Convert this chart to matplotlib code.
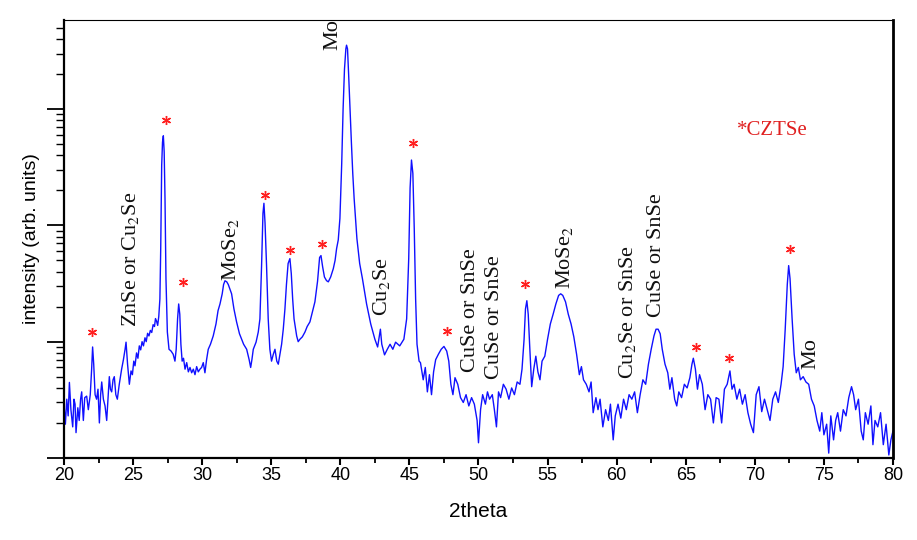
import matplotlib
matplotlib.use("Agg")
import matplotlib.pyplot as plt
from matplotlib.ticker import LogLocator, NullFormatter, MultipleLocator

plt.rcParams["font.family"] = ["Liberation Sans", "DejaVu Sans"]
plt.rcParams["mathtext.fontset"] = "stix"

# XRD pattern (2theta in degrees, intensity in arb. units)
two_theta = [
    20.0, 20.1, 20.2, 20.3, 20.39, 20.5, 20.63, 20.72, 20.8, 20.87, 21.0, 21.1, 21.2, 21.28, 21.4,
    21.5, 21.64, 21.76, 21.9, 22.0, 22.07, 22.15, 22.25, 22.36, 22.46, 22.56, 22.65, 22.73, 22.85,
    22.97, 23.09, 23.2, 23.28, 23.36, 23.45, 23.55, 23.64, 23.75, 23.86, 24.0, 24.17, 24.3, 24.42,
    24.49, 24.6, 24.73, 24.85, 24.95, 25.05, 25.14, 25.25, 25.35, 25.45, 25.55, 25.65, 25.75, 25.86,
    25.95, 26.05, 26.15, 26.25, 26.35, 26.45, 26.55, 26.62, 26.7, 26.78, 26.86, 26.94, 27.0, 27.07,
    27.13, 27.19, 27.25, 27.31, 27.38, 27.48, 27.6, 27.75, 27.9, 28.03, 28.12, 28.22, 28.3, 28.38,
    28.46, 28.55, 28.65, 28.76, 28.88, 29.0, 29.12, 29.24, 29.36, 29.48, 29.6, 29.72, 29.84, 29.96,
    30.08, 30.2, 30.32, 30.44, 30.6, 30.8, 31.0, 31.15, 31.29, 31.45, 31.55, 31.65, 31.78, 31.89,
    32.0, 32.13, 32.3, 32.49, 32.7, 32.86, 33.0, 33.22, 33.4, 33.51, 33.6, 33.7, 33.9, 34.06, 34.18,
    34.3, 34.4, 34.47, 34.55, 34.66, 34.78, 34.9, 35.02, 35.15, 35.27, 35.4, 35.51, 35.63, 35.75,
    35.87, 35.99, 36.1, 36.22, 36.35, 36.45, 36.55, 36.65, 36.84, 36.95, 37.08, 37.25, 37.44, 37.6,
    37.8, 37.95, 38.16, 38.35, 38.5, 38.6, 38.72, 38.85, 39.0, 39.13, 39.3, 39.49, 39.62, 39.73,
    39.85, 39.97, 40.1, 40.2, 40.3, 40.4, 40.45, 40.52, 40.6, 40.7, 40.8, 40.9, 41.0, 41.2, 41.4,
    41.6, 41.9, 42.2, 42.5, 42.7, 42.9, 43.0, 43.2, 43.4, 43.6, 43.8, 44.0, 44.3, 44.6, 44.8, 44.95,
    45.05, 45.15, 45.25, 45.35, 45.45, 45.55, 45.7, 45.8, 46.0, 46.15, 46.3, 46.45, 46.6, 46.75,
    46.9, 47.1, 47.3, 47.5, 47.7, 47.85, 48.0, 48.15, 48.3, 48.5, 48.7, 48.9, 49.1, 49.3, 49.5,
    49.7, 49.9, 50.0, 50.15, 50.3, 50.5, 50.65, 50.8, 51.0, 51.15, 51.3, 51.45, 51.6, 51.8, 52.0,
    52.2, 52.4, 52.6, 52.8, 53.0, 53.15, 53.3, 53.4, 53.5, 53.6, 53.7, 53.85, 54.0, 54.15, 54.3,
    54.45, 54.6, 54.8, 55.0, 55.2, 55.4, 55.6, 55.8, 55.95, 56.1, 56.3, 56.5, 56.7, 56.9, 57.1,
    57.3, 57.45, 57.6, 57.8, 58.0, 58.15, 58.3, 58.5, 58.65, 58.8, 59.0, 59.2, 59.4, 59.55, 59.75,
    59.9, 60.1, 60.3, 60.5, 60.7, 60.9, 61.1, 61.3, 61.5, 61.7, 61.9, 62.1, 62.3, 62.5, 62.7,
    62.85, 63.0, 63.15, 63.3, 63.5, 63.7, 63.85, 64.0, 64.2, 64.35, 64.5, 64.7, 64.9, 65.1, 65.3,
    65.45, 65.55, 65.7, 65.85, 66.0, 66.2, 66.4, 66.6, 66.8, 67.0, 67.2, 67.4, 67.6, 67.8, 68.0,
    68.2, 68.35, 68.5, 68.7, 68.9, 69.1, 69.3, 69.5, 69.7, 69.9, 70.1, 70.3, 70.5, 70.7, 70.9,
    71.1, 71.3, 71.5, 71.7, 71.9, 72.05, 72.2, 72.35, 72.45, 72.55, 72.7, 72.85, 73.0, 73.15, 73.3,
    73.5, 73.7, 73.9, 74.1, 74.3, 74.5, 74.7, 74.85, 75.0, 75.2, 75.35, 75.5, 75.7, 75.85, 76.0,
    76.2, 76.4, 76.6, 76.8, 77.0, 77.15, 77.3, 77.5, 77.7, 77.85, 78.0, 78.2, 78.4, 78.55, 78.7,
    78.9, 79.1, 79.3, 79.5, 79.7, 79.85, 80.0,
]
intensity = [
    29, 19.5, 32, 23, 44.6, 26, 18.5, 32, 29, 16.5, 27, 21, 32, 37, 21,
    33, 34, 26, 35, 58, 90, 64, 35, 32, 39, 20, 35, 45, 32,
    28, 21, 35, 50, 39, 37, 47, 50, 35, 32, 43, 58, 70, 86,
    99, 64, 43, 56, 52, 68, 62, 80, 72, 92, 85, 100, 92, 108,
    100, 118, 112, 125, 120, 140, 135, 158, 150, 138, 165, 233, 632, 3300,
    5200, 5900, 4300, 1700, 348, 121, 86, 83, 78, 68, 86, 157, 211, 172,
    95, 68, 72, 58, 66, 55, 60, 54, 58, 52, 61, 55, 58, 60,
    66, 54, 70, 86, 95, 112, 142, 185, 211, 258, 310, 334, 327, 310,
    285, 258, 191, 148, 117, 105, 95, 86, 70, 60, 70, 86, 99, 121, 157,
    451, 1270, 1550, 1050, 451, 157, 86, 68, 78, 86, 68, 64, 78, 95,
    128, 191, 310, 470, 518, 385, 233, 157, 112, 100, 105, 110, 121, 135,
    148, 175, 220, 330, 530, 550, 440, 360, 335, 327, 360, 424, 500, 632,
    750, 1150, 3400, 10000, 22000, 33000, 35500, 33000, 20000, 10000, 5200, 2800, 1700, 770, 470,
    348, 211, 142, 105, 90, 128, 95, 77, 86, 95, 86, 99, 92, 105, 157, 518,
    2100, 3650, 2800, 940, 233, 95, 68, 66, 47, 60, 37, 52, 35, 55,
    70, 78, 86, 91, 83, 68, 43, 35, 49, 43, 33, 30, 35, 28, 33,
    29, 21, 13.5, 26, 35, 29, 37, 32, 35, 26, 18.5, 37, 33, 43, 39,
    32, 40, 35, 45, 43, 58, 105, 191, 225, 172, 95, 41, 58, 75, 55,
    47, 68, 75, 105, 142, 172, 211, 250, 258, 250, 220, 172, 142, 110, 78,
    52, 61, 47, 43, 37, 45, 24.5, 33, 26, 32, 18.5, 26, 21, 29, 14.3,
    23, 29, 22, 32, 26, 35, 32, 37, 24.5, 35, 47, 43, 64, 86, 112,
    128, 128, 117, 86, 64, 54, 39, 49, 32, 28, 37, 33, 43, 40, 49,
    64, 72, 58, 39, 52, 43, 26, 35, 32, 20, 33, 32, 20, 39, 43,
    56, 39, 43, 32, 39, 29, 35, 24.5, 19.5, 16.5, 35, 41, 25, 32, 26,
    21, 32, 37, 30, 43, 61, 128, 310, 451, 348, 157, 78, 54, 60, 47,
    50, 45, 43, 32, 28, 21, 17, 24.5, 15.8, 19.5, 11, 23, 14.3, 21, 24.5,
    17, 26, 23, 33, 41, 35, 26, 32, 17, 14.3, 24.5, 19.5, 28, 13, 21,
    18.5, 24.5, 13, 19.5, 10.6, 14.3, 17,
]

# CZTSe reflections marked with red asterisks
czts_theta = [22.03, 27.38, 28.6, 34.54, 36.35, 38.67, 45.25, 47.71, 53.36, 65.73, 68.12, 72.53]
czts_height = [121, 8100, 327, 1820, 620, 698, 5130, 123, 315, 90, 73, 632]

# secondary phase labels: text, 2theta, intensity at the foot of the label
phase_labels = ["ZnSe or Cu$_2$Se", "MoSe$_2$", "Mo", "Cu$_2$Se", "CuSe or SnSe",
                "CuSe or SnSe", "MoSe$_2$", "Cu$_2$Se or SnSe", "CuSe or SnSe", "Mo"]
phase_theta = [24.78, 32.08, 39.46, 43.0, 49.45, 51.19, 56.25, 60.81, 62.9, 74.05]
phase_foot = [134, 334, 32000, 166, 54.4, 47.3, 285, 47.3, 163, 57.8]

fig = plt.figure(figsize=(9.17, 5.4), dpi=100)
ax = fig.add_axes([0.0698, 0.152, 0.904, 0.811])

ax.plot(two_theta, intensity, color="#1010ff", lw=1.0)
ax.plot(czts_theta, czts_height, ls="none", marker=(6, 2, 0), ms=6.5, mew=1.0, color="#ff2020")

for lab, t, f in zip(phase_labels, phase_theta, phase_foot):
    ax.text(t, f, lab, rotation=90, ha="center", va="bottom", fontsize=16,
            family="Liberation Serif", color="#111111")

ax.text(0.812, 0.747, "*CZTSe", transform=ax.transAxes, fontsize=15,
        family="Liberation Serif", color="#e02020", va="center", ha="left")

ax.set_yscale("log")
ax.set_xlim(20, 80)
ax.set_ylim(10, 10 ** 4.767)
ax.xaxis.set_major_locator(MultipleLocator(5))
ax.xaxis.set_minor_locator(MultipleLocator(2.5))
ax.yaxis.set_major_locator(LogLocator(base=10))
ax.yaxis.set_minor_locator(LogLocator(base=10, subs=range(2, 10)))
ax.yaxis.set_major_formatter(NullFormatter())
ax.yaxis.set_minor_formatter(NullFormatter())

ax.tick_params(axis="x", which="major", direction="out", length=5, width=1.5,
               labelsize=13, pad=1.5)
ax.tick_params(axis="x", which="minor", direction="out", length=3.5, width=1.3)
ax.tick_params(axis="y", which="major", direction="out", length=12, width=1.3)
ax.tick_params(axis="y", which="minor", direction="out", length=6, width=1.0)

ax.spines["left"].set_linewidth(1.6)
ax.spines["bottom"].set_linewidth(1.6)
ax.spines["right"].set_linewidth(2.0)
ax.spines["top"].set_linewidth(0.8)

ax.set_xlabel("2theta", fontsize=15, labelpad=13)
ax.set_ylabel("intensity (arb. units)", fontsize=14, labelpad=2)

fig.savefig("out.png", dpi=100)
